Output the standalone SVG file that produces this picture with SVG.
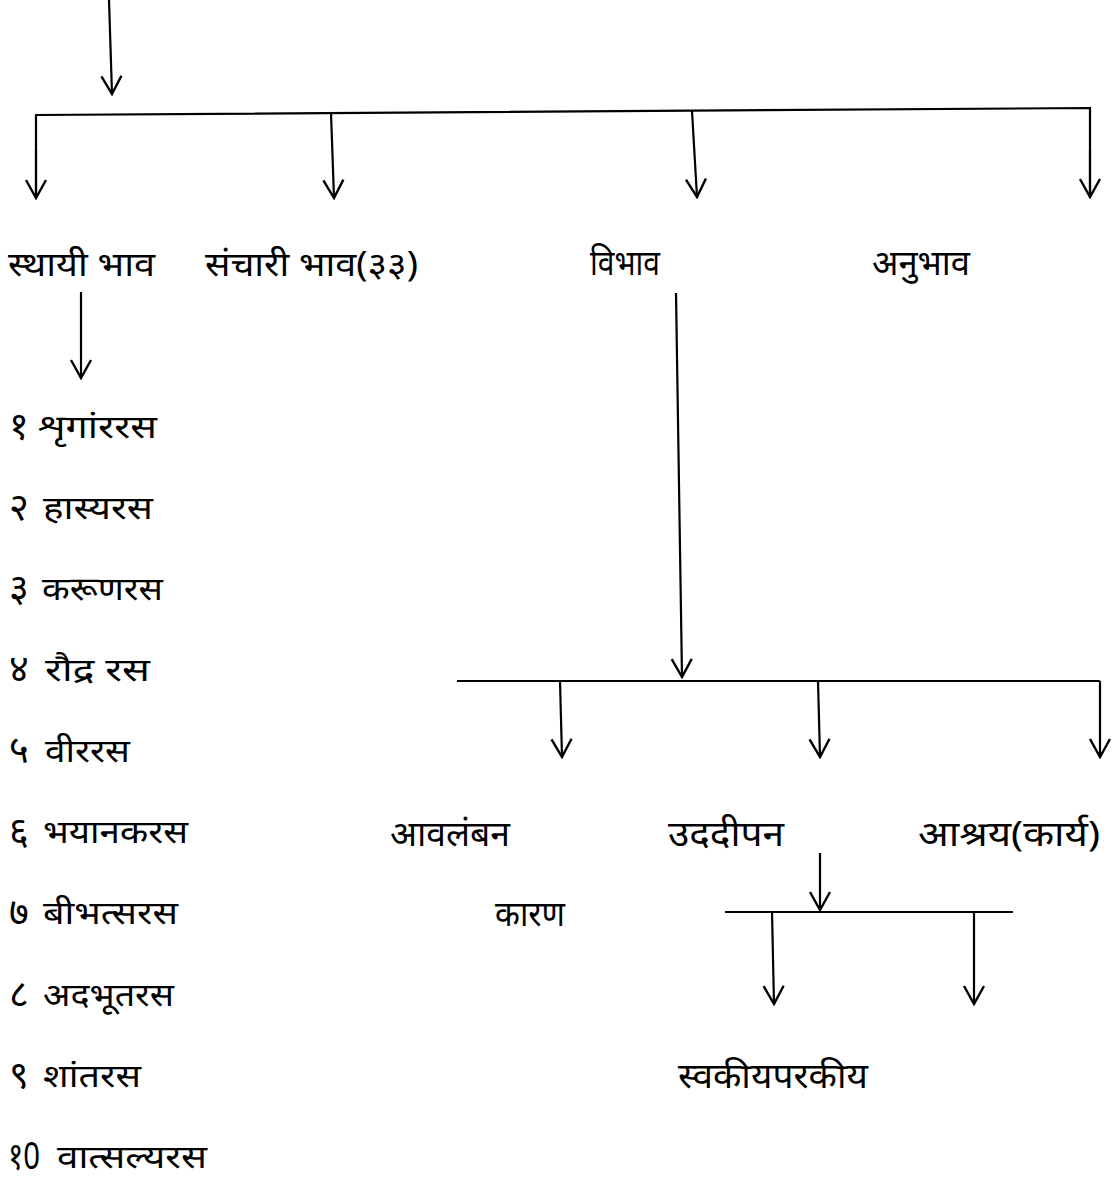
<svg xmlns="http://www.w3.org/2000/svg" width="1112" height="1180" viewBox="0 0 1112 1180">
<style>
.c{stroke:#000;stroke-width:2.2;fill:none}
.a{marker-end:url(#ah)}
text{font-family:"Noto Sans","DejaVu Sans",sans-serif;font-size:32px;fill:#000}
.t{font-size:34px}
.k{font-size:35px}
.d{font-size:38px}
</style>
<defs>
<marker id="ah" markerUnits="userSpaceOnUse" orient="auto" viewBox="-20 -12 22 24" markerWidth="22" markerHeight="24" refX="0" refY="0">
<path d="M-18,-10 L0,0 L-18,10" fill="none" stroke="#000" stroke-width="2.4"/>
</marker>
</defs>
<rect width="1112" height="1180" fill="#fff"/>
<g id="connectors">
<line class="c a" x1="109" y1="0" x2="112" y2="94"/>
<polyline class="c" points="36,198 36,115 1090,108 1090,197"/>
<line class="c a" x1="36" y1="150" x2="36" y2="198"/>
<line class="c a" x1="331" y1="113" x2="334" y2="198"/>
<line class="c a" x1="692" y1="111" x2="697" y2="197"/>
<line class="c a" x1="1090" y1="150" x2="1090" y2="197"/>
<line class="c a" x1="81" y1="292" x2="81" y2="378"/>
<line class="c a" x1="676" y1="293" x2="682" y2="677"/>
<line class="c" x1="457" y1="681" x2="1100" y2="681"/>
<line class="c a" x1="560" y1="681" x2="562" y2="757"/>
<line class="c a" x1="818" y1="681" x2="820" y2="757"/>
<line class="c a" x1="1100" y1="681" x2="1100" y2="757"/>
<line class="c a" x1="820" y1="853" x2="820" y2="910"/>
<line class="c" x1="725" y1="912" x2="1013" y2="912"/>
<line class="c a" x1="772" y1="912" x2="774" y2="1004"/>
<line class="c a" x1="974" y1="912" x2="974" y2="1004"/>
</g>
<g id="n-sthayi"><text x="8" y="276" class="t" textLength="147" lengthAdjust="spacingAndGlyphs">स्थायी भाव</text></g>
<g id="n-sanchari"><text x="205" y="276" class="t" textLength="213" lengthAdjust="spacingAndGlyphs">संचारी भाव(३३)</text></g>
<g id="n-vibhav"><text x="590" y="275" class="k" textLength="70" lengthAdjust="spacingAndGlyphs">विभाव</text></g>
<g id="n-anubhav"><text x="872" y="275" class="k" textLength="98" lengthAdjust="spacingAndGlyphs">अनुभाव</text></g>
<g id="n-list">
<text x="9" y="439" class="d">१</text><text x="38" y="438" textLength="119" lengthAdjust="spacingAndGlyphs">शृगांररस</text>
<text x="9" y="520" class="d">२</text><text x="43" y="519" textLength="110" lengthAdjust="spacingAndGlyphs">हास्यरस</text>
<text x="9" y="601" class="d">३</text><text x="42" y="600" textLength="121" lengthAdjust="spacingAndGlyphs">करूणरस</text>
<text x="9" y="682" class="d">४</text><text x="45" y="681" textLength="105" lengthAdjust="spacingAndGlyphs">रौद्र रस</text>
<text x="9" y="763" class="d">५</text><text x="45" y="762" textLength="85" lengthAdjust="spacingAndGlyphs">वीररस</text>
<text x="9" y="844" class="d">६</text><text x="43" y="843" textLength="145" lengthAdjust="spacingAndGlyphs">भयानकरस</text>
<text x="9" y="925" class="d">७</text><text x="43" y="924" textLength="135" lengthAdjust="spacingAndGlyphs">बीभत्सरस</text>
<text x="9" y="1007" class="d">८</text><text x="43" y="1006" textLength="131" lengthAdjust="spacingAndGlyphs">अदभूतरस</text>
<text x="9" y="1088" class="d">९</text><text x="43" y="1087" textLength="98" lengthAdjust="spacingAndGlyphs">शांतरस</text>
<text x="8" y="1169" class="d" textLength="32" lengthAdjust="spacingAndGlyphs">१0</text><text x="57" y="1168" textLength="150" lengthAdjust="spacingAndGlyphs">वात्सल्यरस</text>
</g>
<g id="n-avalamban"><text x="390" y="846" class="k" textLength="120" lengthAdjust="spacingAndGlyphs">आवलंबन</text></g>
<g id="n-uddipan"><text x="668" y="846" class="k" textLength="116" lengthAdjust="spacingAndGlyphs">उददीपन</text></g>
<g id="n-ashray"><text x="918" y="846" class="k" textLength="182" lengthAdjust="spacingAndGlyphs">आश्रय(कार्य)</text></g>
<g id="n-karan"><text x="495" y="926" class="k" textLength="70" lengthAdjust="spacingAndGlyphs">कारण</text></g>
<g id="n-svakiya"><text x="678" y="1088" class="k" textLength="190" lengthAdjust="spacingAndGlyphs">स्वकीयपरकीय</text></g>
</svg>
